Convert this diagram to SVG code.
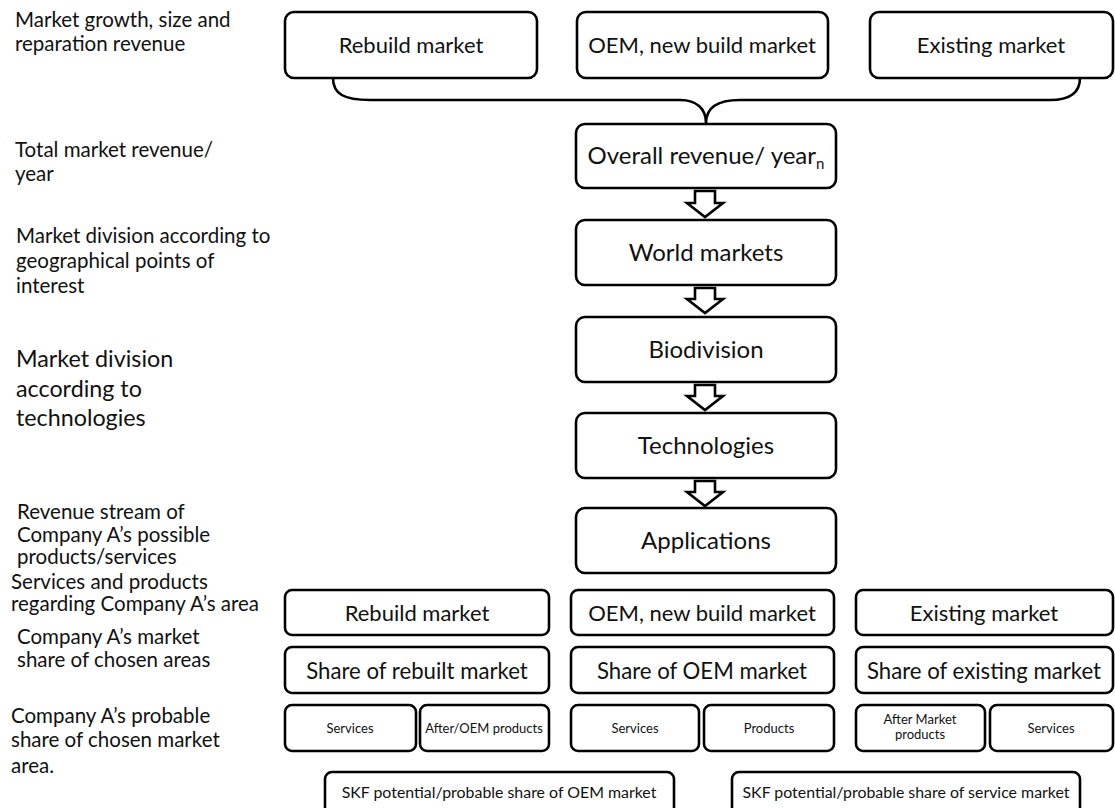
<svg xmlns="http://www.w3.org/2000/svg" width="1115" height="808" viewBox="0 0 1115 808">
  <style>
    .box { fill: #fff; stroke: #000; stroke-width: 2.6; }
    .arr { fill: #fff; stroke: #000; stroke-width: 2.6; stroke-linejoin: miter; }
    .brace { fill: none; stroke: #000; stroke-width: 2.6; }
    text { font-family: Lato, "Liberation Sans", sans-serif; fill: #111; }
    .lbl { font-size: 20.5px; }
    .lblL { font-size: 23.3px; }
    .t { font-size: 22px; text-anchor: middle; }
    .tv { font-size: 24px; text-anchor: middle; }
    .tL { font-size: 22.2px; text-anchor: middle; }
    .ts { font-size: 13px; text-anchor: middle; }
    .tm { font-size: 15.9px; text-anchor: middle; }
  </style>

  <!-- left column descriptions -->
  <g id="labels">
    <text class="lbl" x="15" y="27">Market growth, size and</text>
    <text class="lbl" x="15" y="51">reparation revenue</text>
    <text class="lbl" x="15" y="157">Total market revenue/</text>
    <text class="lbl" x="15" y="181">year</text>
    <text class="lbl" x="16" y="243">Market division according to</text>
    <text class="lbl" x="16" y="268">geographical points of</text>
    <text class="lbl" x="16" y="293">interest</text>
    <text class="lblL" x="16" y="367">Market division</text>
    <text class="lblL" x="16" y="397">according to</text>
    <text class="lblL" x="16" y="426">technologies</text>
    <text class="lbl" x="17" y="519">Revenue stream of</text>
    <text class="lbl" x="17" y="542">Company A’s possible</text>
    <text class="lbl" x="17" y="564">products/services</text>
    <text class="lbl" x="11" y="589">Services and products</text>
    <text class="lbl" x="11" y="611">regarding Company A’s area</text>
    <text class="lbl" x="17" y="644">Company A’s market</text>
    <text class="lbl" x="17" y="667">share of chosen areas</text>
    <text class="lbl" x="11" y="723">Company A’s probable</text>
    <text class="lbl" x="11" y="747">share of chosen market</text>
    <text class="lbl" x="11" y="773">area.</text>
  </g>

  <!-- top market sources -->
  <g id="top-rebuild"><rect class="box" x="285" y="12" width="252" height="66" rx="9"/><text class="t" x="411" y="53">Rebuild market</text></g>
  <g id="top-oem"><rect class="box" x="577" y="12" width="251" height="66" rx="9"/><text class="t" x="702" y="53">OEM, new build market</text></g>
  <g id="top-existing"><rect class="box" x="870" y="12" width="243" height="66" rx="9"/><text class="t" x="991" y="53">Existing market</text></g>

  <!-- main chain -->
  <g id="overall"><rect class="box" x="576" y="124" width="260" height="64" rx="9"/><text class="tv" x="706" y="164">Overall revenue/ year<tspan font-size="15" dy="5">n</tspan></text></g>
  <g id="world"><rect class="box" x="576" y="220" width="260" height="65" rx="9"/><text class="tv" x="706" y="261">World markets</text></g>
  <g id="biodivision"><rect class="box" x="576" y="317" width="260" height="65" rx="9"/><text class="tv" x="706" y="358">Biodivision</text></g>
  <g id="technologies"><rect class="box" x="576" y="413" width="260" height="65" rx="9"/><text class="tv" x="706" y="454">Technologies</text></g>
  <g id="applications"><rect class="box" x="576" y="508" width="260" height="65" rx="9"/><text class="tv" x="706" y="549">Applications</text></g>

  <!-- company A areas -->
  <g id="area-rebuild"><rect class="box" x="285" y="590" width="264" height="45" rx="7"/><text class="t" x="417" y="621">Rebuild market</text></g>
  <g id="area-oem"><rect class="box" x="571" y="590" width="263" height="45" rx="7"/><text class="t" x="702" y="621">OEM, new build market</text></g>
  <g id="area-existing"><rect class="box" x="856" y="590" width="257" height="45" rx="7"/><text class="t" x="984" y="621">Existing market</text></g>

  <g id="share-rebuilt"><rect class="box" x="285" y="647" width="264" height="46" rx="7"/><text class="tL" x="417" y="679">Share of rebuilt market</text></g>
  <g id="share-oem"><rect class="box" x="571" y="647" width="263" height="46" rx="7"/><text class="tL" x="702" y="679">Share of OEM market</text></g>
  <g id="share-existing"><rect class="box" x="856" y="647" width="257" height="46" rx="7"/><text class="tL" x="984" y="679">Share of existing market</text></g>

  <g id="rebuilt-services"><rect class="box" x="285" y="705" width="131" height="46" rx="7"/><text class="ts" x="350" y="733">Services</text></g>
  <g id="rebuilt-products"><rect class="box" x="420" y="705" width="129" height="46" rx="7"/><text class="ts" x="484" y="733">After/OEM products</text></g>
  <g id="oem-services"><rect class="box" x="571" y="705" width="128" height="46" rx="7"/><text class="ts" x="635" y="733">Services</text></g>
  <g id="oem-products"><rect class="box" x="704" y="705" width="130" height="46" rx="7"/><text class="ts" x="769" y="733">Products</text></g>
  <g id="existing-products"><rect class="box" x="856" y="705" width="129" height="46" rx="7"/><text class="ts" x="920" y="724">After Market</text><text class="ts" x="920" y="739">products</text></g>
  <g id="existing-services"><rect class="box" x="990" y="705" width="123" height="46" rx="7"/><text class="ts" x="1051" y="733">Services</text></g>

  <g id="skf-oem"><rect class="box" x="325" y="772" width="349" height="46" rx="7"/><text class="tm" x="499" y="798">SKF potential/probable share of OEM market</text></g>
  <g id="skf-service"><rect class="box" x="732" y="772" width="348" height="46" rx="7"/><text class="tm" x="906" y="798">SKF potential/probable share of service market</text></g>

  <!-- connectors -->
  <g id="connectors">
    <path class="brace" d="M333,78 C333,94 344,100 370,100 L680,100 C697,100 706,109 706,123 C706,109 716,100 740,100 L1050,100 C1070,100 1080,93 1080,78"/>
    <polygon class="arr" points="695,191 715,191 715,203 723,203 705,217 687,203 695,203"/>
    <polygon class="arr" points="695,288 715,288 715,299 723,299 705,313 687,299 695,299"/>
    <polygon class="arr" points="695,385 715,385 715,396 723,396 705,410 687,396 695,396"/>
    <polygon class="arr" points="695,481 715,481 715,492 723,492 705,506 687,492 695,492"/>
  </g>
</svg>
